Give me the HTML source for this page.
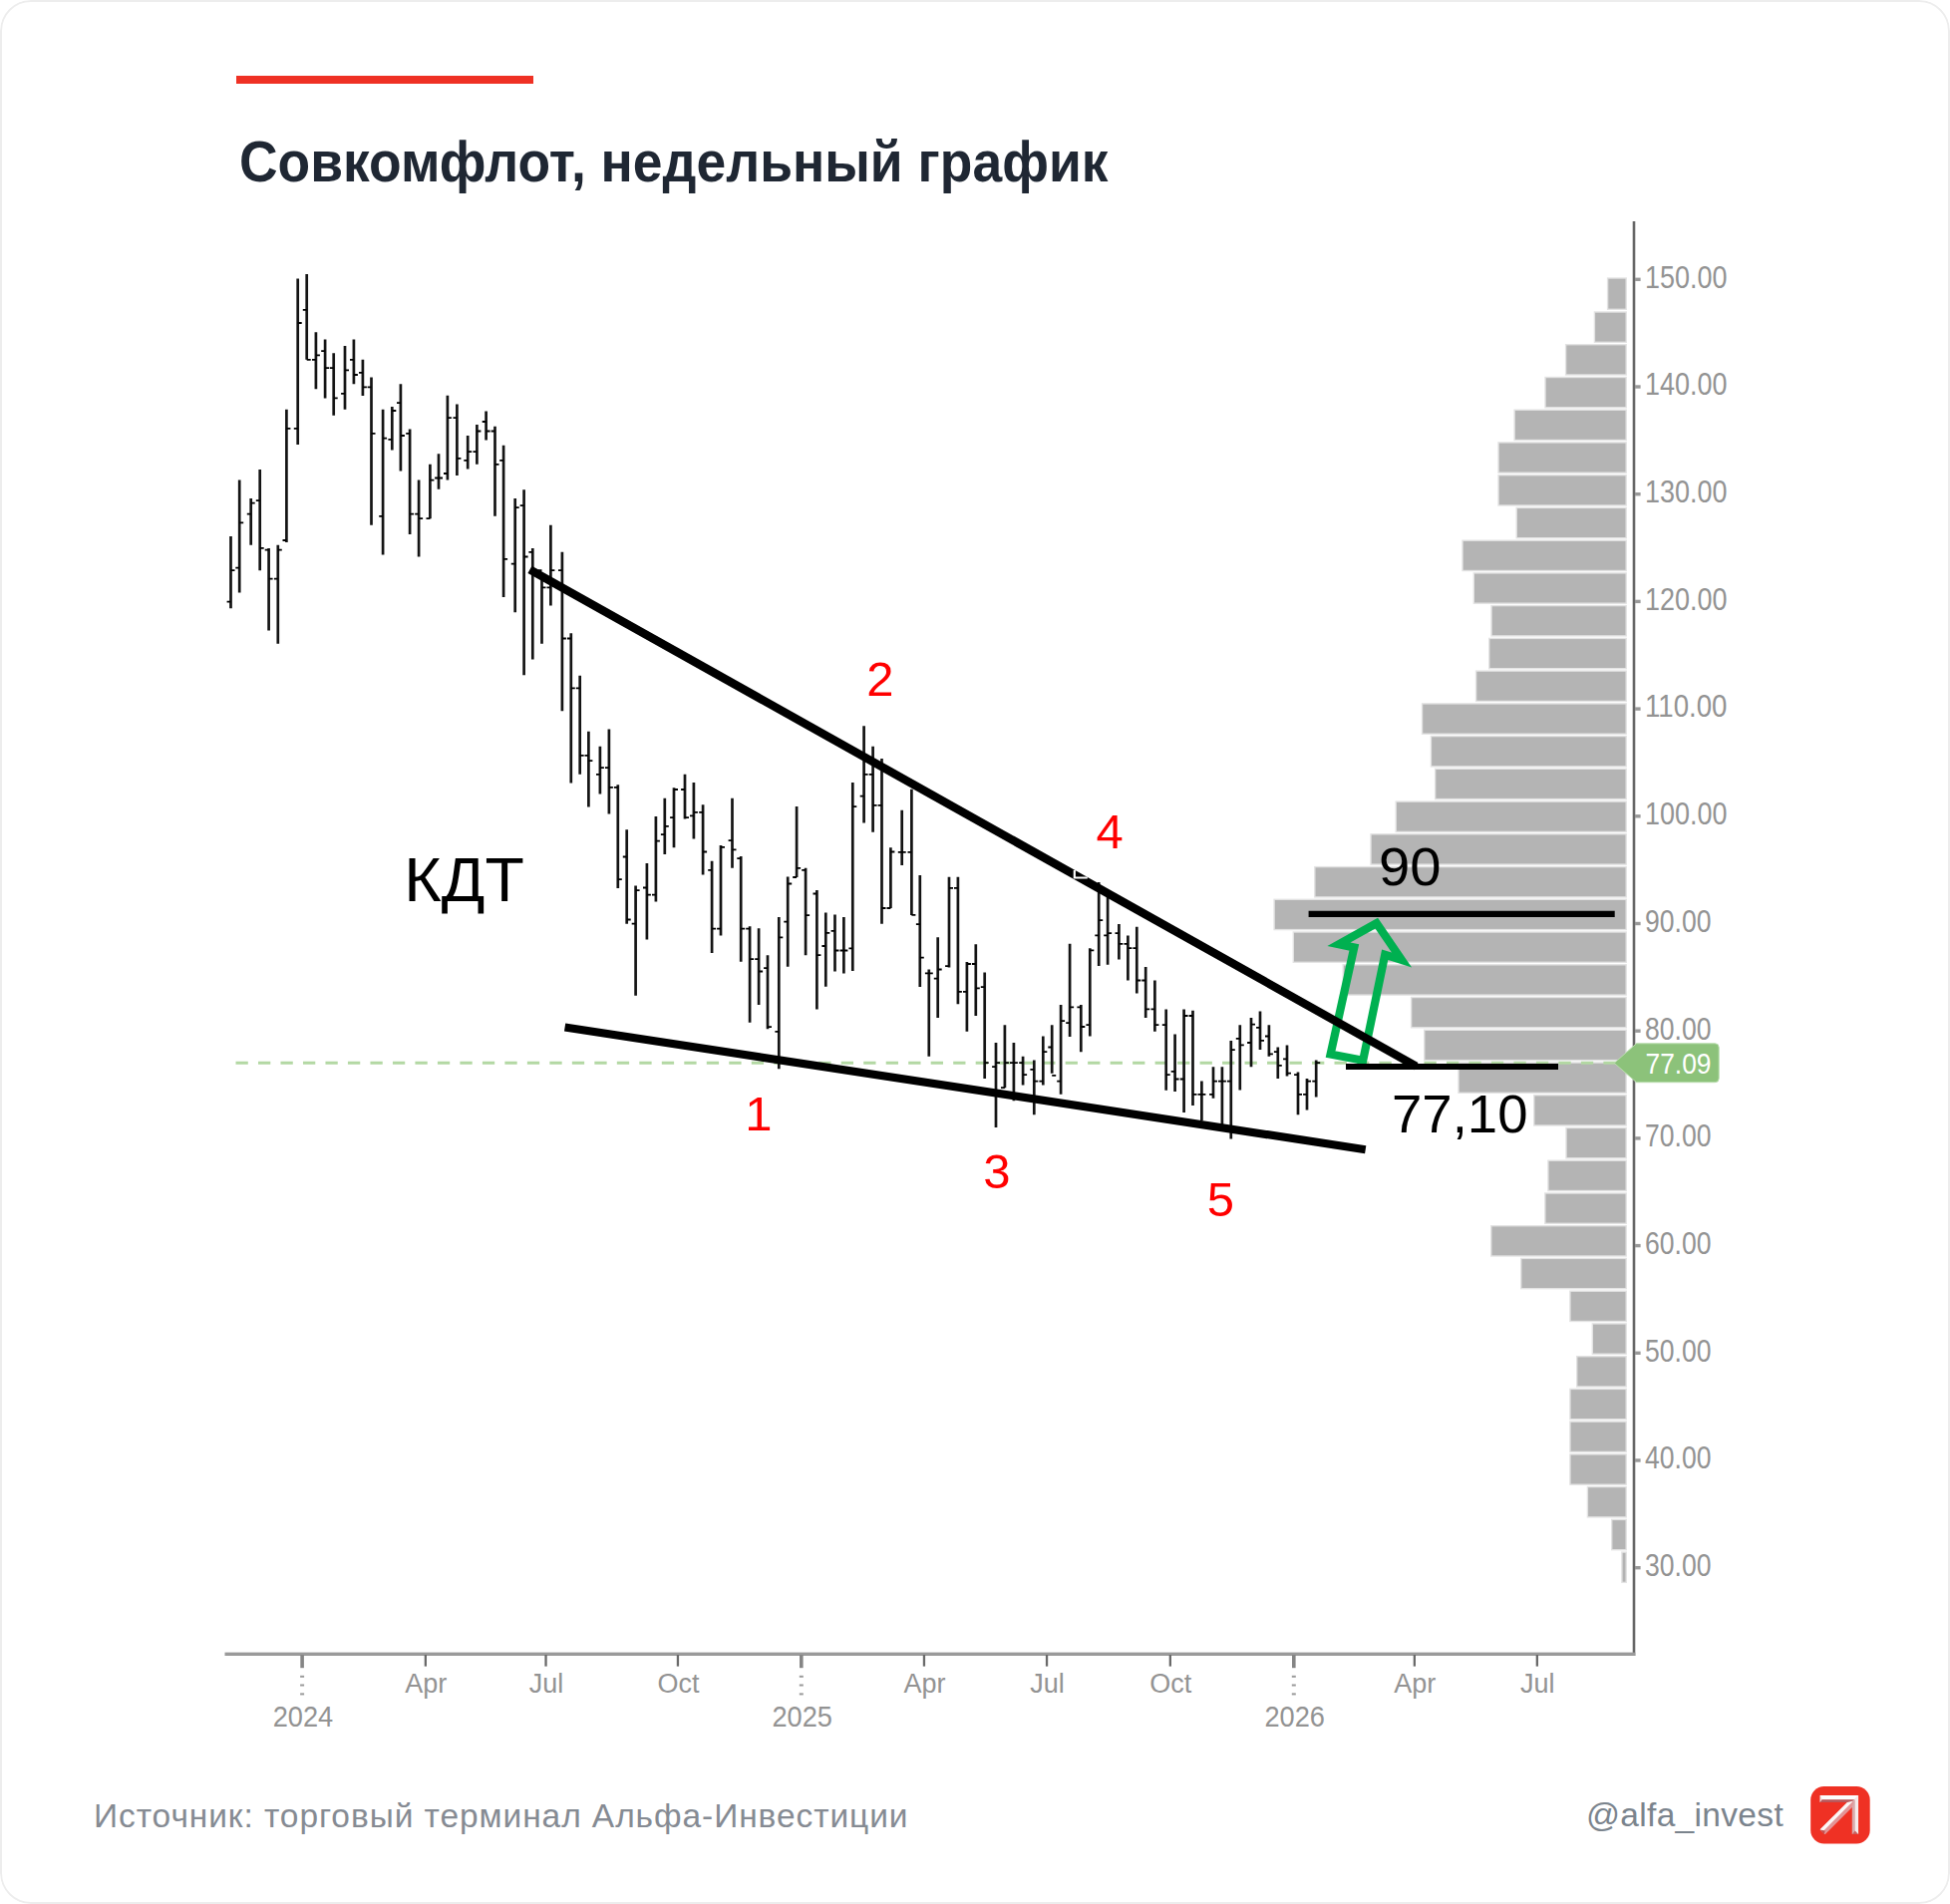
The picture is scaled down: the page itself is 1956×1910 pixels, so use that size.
<!DOCTYPE html>
<html lang="ru"><head><meta charset="utf-8"><title>Совкомфлот, недельный график</title>
<style>
html,body{margin:0;padding:0;background:#fff;}
body{width:1956px;height:1910px;overflow:hidden;position:relative;font-family:"Liberation Sans", sans-serif;}
.card{position:absolute;left:0;top:0;width:1956px;height:1910px;border-radius:31px;background:#fff;overflow:hidden;}
.card::after{content:"";position:absolute;left:0;top:0;width:1956px;height:1910px;box-sizing:border-box;border:2px solid #ededed;border-radius:31px;pointer-events:none;}
.accent{position:absolute;left:237px;top:76px;width:298px;height:8px;background:#ef3124;}
h1{position:absolute;left:240px;top:135.3px;margin:0;font-size:56.5px;line-height:56.5px;font-weight:700;color:#1f2733;white-space:nowrap;transform-origin:0 0;transform:scaleX(.9455);}
figure{position:absolute;left:0;top:0;margin:0;width:1956px;height:1910px;}
figure svg{position:absolute;left:0;top:0;display:block;}
svg text{font-family:"Liberation Sans", sans-serif;}
.ax{fill:#939393;font-size:27px;}
.red{fill:#ff0000;font-size:49px;}
.blk{fill:#000;font-size:53px;}
footer p{position:absolute;margin:0;font-size:33.5px;line-height:33.5px;white-space:nowrap;}
.source{left:94px;top:1805px;color:#868b93;letter-spacing:.93px;}
.handle{left:1591px;top:1803.9px;color:#7b848d;letter-spacing:.32px;}
.logo{position:absolute;left:1816px;top:1792px;width:60px;height:58px;}
</style></head><body>
<main class="card">
<header><div class="accent"></div><h1>Совкомфлот, недельный график</h1></header>
<figure>
<svg width="1956" height="1910" viewBox="0 0 1956 1910" role="img" aria-label="Совкомфлот, недельный график">

<g fill="#b4b4b4" stroke="#e3e3e3" stroke-width="1.4">
<rect x="1612.6" y="279.0" width="18.6" height="31.3"/>
<rect x="1599.4" y="313.0" width="31.8" height="30.3"/>
<rect x="1570.6" y="345.7" width="60.6" height="30.3"/>
<rect x="1550.0" y="378.5" width="81.2" height="30.3"/>
<rect x="1519.1" y="411.2" width="112.1" height="30.3"/>
<rect x="1503.0" y="443.9" width="128.2" height="30.3"/>
<rect x="1503.0" y="476.7" width="128.2" height="30.3"/>
<rect x="1521.2" y="509.4" width="110.0" height="30.3"/>
<rect x="1467.0" y="542.2" width="164.2" height="30.3"/>
<rect x="1478.3" y="574.9" width="152.9" height="30.3"/>
<rect x="1496.0" y="607.6" width="135.2" height="30.3"/>
<rect x="1493.7" y="640.4" width="137.5" height="30.3"/>
<rect x="1480.6" y="673.1" width="150.6" height="30.3"/>
<rect x="1426.5" y="705.9" width="204.7" height="30.3"/>
<rect x="1435.4" y="738.6" width="195.8" height="30.3"/>
<rect x="1439.6" y="771.3" width="191.6" height="30.3"/>
<rect x="1400.2" y="804.1" width="231.0" height="30.3"/>
<rect x="1375.0" y="836.8" width="256.2" height="30.3"/>
<rect x="1318.8" y="869.6" width="312.4" height="30.3"/>
<rect x="1278.1" y="902.3" width="353.1" height="30.3"/>
<rect x="1297.3" y="935.0" width="333.9" height="30.3"/>
<rect x="1347.2" y="967.8" width="284.0" height="30.3"/>
<rect x="1415.6" y="1000.5" width="215.6" height="30.3"/>
<rect x="1428.7" y="1033.3" width="202.5" height="30.3"/>
<rect x="1463.0" y="1066.0" width="168.2" height="30.3"/>
<rect x="1538.7" y="1098.7" width="92.5" height="30.3"/>
<rect x="1571.0" y="1131.5" width="60.2" height="30.3"/>
<rect x="1552.9" y="1164.2" width="78.3" height="30.3"/>
<rect x="1549.8" y="1197.0" width="81.4" height="30.3"/>
<rect x="1495.7" y="1229.7" width="135.5" height="30.3"/>
<rect x="1525.7" y="1262.4" width="105.5" height="30.3"/>
<rect x="1574.9" y="1295.2" width="56.3" height="30.3"/>
<rect x="1597.3" y="1327.9" width="33.9" height="30.3"/>
<rect x="1581.7" y="1360.7" width="49.5" height="30.3"/>
<rect x="1574.9" y="1393.4" width="56.3" height="30.3"/>
<rect x="1574.9" y="1426.1" width="56.3" height="30.3"/>
<rect x="1574.9" y="1458.9" width="56.3" height="30.3"/>
<rect x="1592.4" y="1491.6" width="38.8" height="30.3"/>
<rect x="1616.7" y="1524.4" width="14.5" height="30.3"/>
<rect x="1626.9" y="1557.1" width="4.3" height="30.3"/>
</g>
<line x1="236.5" y1="1066.3" x2="1622" y2="1066.3" stroke="#b3d8a3" stroke-width="3" stroke-dasharray="12.3 10.19"/>
<rect x="1637.7" y="222" width="2.6" height="1439" fill="#666"/>
<rect x="225.5" y="1657.6" width="1414.8" height="3.4" fill="#9a9a9a"/>
<rect x="1640" y="1571.0" width="5.6" height="3.4" fill="#999"/>
<text class="ax" style="font-size:30.5px" x="1650" y="1581.0" textLength="66.5" lengthAdjust="spacingAndGlyphs">30.00</text>
<rect x="1640" y="1463.3" width="5.6" height="3.4" fill="#999"/>
<text class="ax" style="font-size:30.5px" x="1650" y="1473.3" textLength="66.5" lengthAdjust="spacingAndGlyphs">40.00</text>
<rect x="1640" y="1355.6" width="5.6" height="3.4" fill="#999"/>
<text class="ax" style="font-size:30.5px" x="1650" y="1365.6" textLength="66.5" lengthAdjust="spacingAndGlyphs">50.00</text>
<rect x="1640" y="1247.9" width="5.6" height="3.4" fill="#999"/>
<text class="ax" style="font-size:30.5px" x="1650" y="1257.9" textLength="66.5" lengthAdjust="spacingAndGlyphs">60.00</text>
<rect x="1640" y="1140.2" width="5.6" height="3.4" fill="#999"/>
<text class="ax" style="font-size:30.5px" x="1650" y="1150.2" textLength="66.5" lengthAdjust="spacingAndGlyphs">70.00</text>
<rect x="1640" y="1032.5" width="5.6" height="3.4" fill="#999"/>
<text class="ax" style="font-size:30.5px" x="1650" y="1042.5" textLength="66.5" lengthAdjust="spacingAndGlyphs">80.00</text>
<rect x="1640" y="924.8" width="5.6" height="3.4" fill="#999"/>
<text class="ax" style="font-size:30.5px" x="1650" y="934.8" textLength="66.5" lengthAdjust="spacingAndGlyphs">90.00</text>
<rect x="1640" y="817.1" width="5.6" height="3.4" fill="#999"/>
<text class="ax" style="font-size:30.5px" x="1650" y="827.1" textLength="82.5" lengthAdjust="spacingAndGlyphs">100.00</text>
<rect x="1640" y="709.4" width="5.6" height="3.4" fill="#999"/>
<text class="ax" style="font-size:30.5px" x="1650" y="719.4" textLength="82.5" lengthAdjust="spacingAndGlyphs">110.00</text>
<rect x="1640" y="601.7" width="5.6" height="3.4" fill="#999"/>
<text class="ax" style="font-size:30.5px" x="1650" y="611.7" textLength="82.5" lengthAdjust="spacingAndGlyphs">120.00</text>
<rect x="1640" y="494.0" width="5.6" height="3.4" fill="#999"/>
<text class="ax" style="font-size:30.5px" x="1650" y="504.0" textLength="82.5" lengthAdjust="spacingAndGlyphs">130.00</text>
<rect x="1640" y="386.3" width="5.6" height="3.4" fill="#999"/>
<text class="ax" style="font-size:30.5px" x="1650" y="396.3" textLength="82.5" lengthAdjust="spacingAndGlyphs">140.00</text>
<rect x="1640" y="278.6" width="5.6" height="3.4" fill="#999"/>
<text class="ax" style="font-size:30.5px" x="1650" y="288.6" textLength="82.5" lengthAdjust="spacingAndGlyphs">150.00</text>
<rect x="301.3" y="1660" width="3.6" height="13.2" fill="#858585"/>
<rect x="301.1" y="1680.8" width="4" height="2" fill="#999"/>
<rect x="301.1" y="1689.5" width="4" height="2" fill="#999"/>
<rect x="301.1" y="1698.4" width="4" height="2" fill="#999"/>
<text class="ax" style="font-size:30px" x="304.0" y="1732.4" text-anchor="middle" textLength="60.5" lengthAdjust="spacingAndGlyphs">2024</text>
<rect x="425.7" y="1660" width="2.3" height="11.6" fill="#6a6a6a"/>
<text class="ax" x="427.3" y="1697.5" text-anchor="middle">Apr</text>
<rect x="546.4" y="1660" width="2.3" height="11.6" fill="#6a6a6a"/>
<text class="ax" x="548.0" y="1697.5" text-anchor="middle">Jul</text>
<rect x="678.8" y="1660" width="2.3" height="11.6" fill="#6a6a6a"/>
<text class="ax" x="680.4" y="1697.5" text-anchor="middle">Oct</text>
<rect x="802.0" y="1660" width="3.6" height="13.2" fill="#858585"/>
<rect x="801.8" y="1680.8" width="4" height="2" fill="#999"/>
<rect x="801.8" y="1689.5" width="4" height="2" fill="#999"/>
<rect x="801.8" y="1698.4" width="4" height="2" fill="#999"/>
<text class="ax" style="font-size:30px" x="804.7" y="1732.4" text-anchor="middle" textLength="60.5" lengthAdjust="spacingAndGlyphs">2025</text>
<rect x="925.8" y="1660" width="2.3" height="11.6" fill="#6a6a6a"/>
<text class="ax" x="927.4" y="1697.5" text-anchor="middle">Apr</text>
<rect x="1048.9" y="1660" width="2.3" height="11.6" fill="#6a6a6a"/>
<text class="ax" x="1050.5" y="1697.5" text-anchor="middle">Jul</text>
<rect x="1172.7" y="1660" width="2.3" height="11.6" fill="#6a6a6a"/>
<text class="ax" x="1174.3" y="1697.5" text-anchor="middle">Oct</text>
<rect x="1296.0" y="1660" width="3.6" height="13.2" fill="#858585"/>
<rect x="1295.8" y="1680.8" width="4" height="2" fill="#999"/>
<rect x="1295.8" y="1689.5" width="4" height="2" fill="#999"/>
<rect x="1295.8" y="1698.4" width="4" height="2" fill="#999"/>
<text class="ax" style="font-size:30px" x="1298.7" y="1732.4" text-anchor="middle" textLength="60.5" lengthAdjust="spacingAndGlyphs">2026</text>
<rect x="1417.7" y="1660" width="2.3" height="11.6" fill="#6a6a6a"/>
<text class="ax" x="1419.3" y="1697.5" text-anchor="middle">Apr</text>
<rect x="1540.7" y="1660" width="2.3" height="11.6" fill="#6a6a6a"/>
<text class="ax" x="1542.3" y="1697.5" text-anchor="middle">Jul</text>
<g stroke="#141414" stroke-width="2.7" fill="none">
<path d="M231.5 538.1V610.3M240.2 481.6V594.5M251.7 500.0V546.7M260.7 471.1V572.2M269.6 549.9V632.6M278.8 546.7V645.7M287.4 410.7V544.1M298.7 279.4V446.1M307.7 274.9V360.8M316.9 333.2V390.2M326.1 340.6V399.4M334.7 354.2V416.7M346.0 347.1V410.7M354.9 340.6V385.2M363.9 360.8V397.0M372.5 378.4V526.8M384.1 410.7V556.4M393.3 408.1V451.4M401.9 385.2V472.4M411.1 430.4V536.0M420.1 481.6V558.5M431.4 465.8V520.2M440.0 455.3V490.8M448.9 396.8V481.6M458.4 405.4V476.9M469.2 437.0V470.6M478.4 425.9V465.8M487.6 412.5V441.4M496.5 427.8V517.8M505.1 446.7V599.0M516.7 500.0V614.2M525.6 491.3V677.2M534.3 549.9V661.5M543.5 578.8V645.7M552.4 526.8V607.6M563.9 553.8V713.2M572.8 635.2V785.4M581.7 677.8V776.8M590.4 733.7V809.6M601.9 748.7V796.5M610.9 731.6V816.4M619.8 787.3V891.0M628.7 832.2V926.7M637.6 888.4V998.7M648.9 866.1V942.5M657.9 819.1V904.4M666.8 800.7V857.1M676.0 790.2V850.3M687.0 776.8V821.4M695.9 784.9V841.4M705.1 807.2V877.4M714.1 863.7V956.1M723.0 847.9V938.5M734.5 800.7V870.8M743.2 859.0V964.8M752.1 929.3V1025.7M761.1 931.2V1007.9M770.0 958.2V1032.3M781.3 919.9V1072.2M790.2 879.5V969.8M799.1 809.1V880.0M808.1 870.8V958.2M819.4 893.1V1012.6M828.3 915.4V989.7M837.5 917.5V974.5M846.4 919.9V976.4M855.3 784.9V974.0M866.6 728.2V825.6M875.6 748.7V834.8M884.5 761.0V926.7M893.4 850.3V911.0M904.7 812.8V868.0M914.4 791.8V917.9M922.8 878.0V990.1M931.8 972.5V1059.7M940.7 940.2V1021.1M952.0 879.8V970.4M960.9 879.8V1007.2M969.9 965.1V1034.7M978.8 947.3V1019.0M987.7 975.6V1082.0M999.0 1046.0V1131.1M1007.9 1028.2V1091.2M1016.9 1046.0V1104.3M1026.1 1059.7V1088.6M1037.3 1063.6V1118.2M1046.3 1039.5V1088.6M1055.2 1028.2V1076.7M1064.1 1007.9V1097.8M1073.1 946.8V1040.0M1084.3 1007.9V1055.2M1093.3 951.2V1039.5M1102.2 885.0V969.1M1111.1 895.5V967.8M1122.4 927.1V962.5M1131.4 938.4V983.5M1140.3 929.7V996.6M1149.2 969.9V1021.1M1158.4 983.5V1034.7M1169.7 1012.4V1093.8M1178.6 1037.4V1095.1M1187.6 1012.4V1116.1M1196.5 1013.7V1109.0M1205.4 1084.4V1124.0M1217.0 1070.2V1101.7M1225.9 1070.2V1129.3M1234.8 1043.9V1142.4M1243.8 1028.2V1093.6M1255.0 1021.1V1070.2M1264.0 1014.5V1053.1M1272.9 1028.2V1059.7M1281.8 1050.5V1082.0M1291.0 1048.4V1079.4M1302.0 1075.4V1118.2M1311.0 1082.0V1113.5M1320.2 1063.6V1100.4"/>
</g>
<g stroke="#000" stroke-width="1.8" fill="none">
<path d="M227.6 603.7h3.9M231.5 572.2h4M236.3 569.6h3.9M240.2 524.4h4M247.8 515.7h3.9M251.7 504.7h4M256.8 502.1h3.9M260.7 549.9h4M265.7 551.7h3.9M269.6 580.6h4M274.9 580.6h3.9M278.8 551.7h4M283.5 542.0h3.9M287.4 429.9h4M294.8 429.9h3.9M298.7 324.0h4M303.8 310.9h3.9M307.7 360.8h4M313.0 360.8h3.9M316.9 356.3h4M322.2 352.1h3.9M326.1 369.2h4M330.8 369.2h3.9M334.7 399.4h4M342.1 394.9h3.9M346.0 371.3h4M351.0 360.8h3.9M354.9 376.0h4M360.0 373.9h3.9M363.9 388.4h4M368.6 388.4h3.9M372.5 434.9h4M380.2 517.8h3.9M384.1 439.6h4M389.4 440.9h3.9M393.3 412.0h4M398.0 404.1h3.9M401.9 437.0h4M407.2 434.9h3.9M411.1 515.7h4M416.2 515.7h3.9M420.1 520.2h4M427.5 520.2h3.9M431.4 481.6h4M436.1 479.5h3.9M440.0 479.5h4M445.0 475.0h3.9M448.9 419.1h4M454.5 419.1h3.9M458.4 459.8h4M465.3 461.9h3.9M469.2 453.2h4M474.5 453.2h3.9M478.4 432.5h4M483.7 423.0h3.9M487.6 432.5h4M492.6 432.5h3.9M496.5 465.8h4M501.2 461.9h3.9M505.1 560.9h4M512.8 565.6h3.9M516.7 509.2h4M521.7 507.1h3.9M525.6 558.5h4M530.4 553.8h3.9M534.3 572.2h4M539.6 572.2h3.9M543.5 589.3h4M548.5 589.3h3.9M552.4 572.2h4M560.0 572.2h3.9M563.9 640.5h4M568.9 640.5h3.9M572.8 690.4h4M577.8 690.4h3.9M581.7 757.9h4M586.5 757.9h3.9M590.4 763.1h4M598.0 776.8h3.9M601.9 770.2h4M607.0 770.2h3.9M610.9 789.9h4M615.9 789.9h3.9M619.8 882.1h4M624.8 859.5h3.9M628.7 922.5h4M633.7 926.7h3.9M637.6 893.1h4M645.0 890.5h3.9M648.9 897.6h4M654.0 897.6h3.9M657.9 843.7h4M662.9 837.2h3.9M666.8 828.8h4M672.1 820.1h3.9M676.0 792.0h4M683.1 792.0h3.9M687.0 820.1h4M692.0 818.3h3.9M695.9 814.9h4M701.2 814.9h3.9M705.1 854.5h4M710.2 872.9h3.9M714.1 931.7h4M719.1 931.7h3.9M723.0 849.8h4M730.6 843.2h3.9M734.5 852.4h4M739.3 861.1h3.9M743.2 931.7h4M748.2 931.7h3.9M752.1 962.2h4M757.2 962.2h3.9M761.1 974.5h4M766.1 971.1h3.9M770.0 1030.2h4M777.4 1034.9h3.9M781.3 940.4h4M786.3 924.6h3.9M790.2 886.5h4M795.2 880.0h3.9M799.1 870.8h4M804.2 872.9h3.9M808.1 918.1h4M815.5 896.5h3.9M819.4 958.2h4M824.4 949.0h3.9M828.3 935.9h4M833.6 933.8h3.9M837.5 953.5h4M842.5 953.5h3.9M846.4 953.5h4M851.4 951.4h3.9M855.3 809.1h4M862.7 798.6h3.9M866.6 776.8h4M871.7 776.8h3.9M875.6 807.8h4M880.6 807.8h3.9M884.5 911.0h4M889.5 911.0h3.9M893.4 854.5h4M900.8 854.8h3.9M904.7 854.8h4M910.5 854.8h3.9M914.4 917.9h4M918.9 927.1h3.9M922.8 960.7h4M927.9 976.4h3.9M931.8 976.4h4M936.8 981.7h3.9M940.7 972.5h4M948.1 969.1h3.9M952.0 890.8h4M957.0 890.8h3.9M960.9 994.8h4M966.0 994.8h3.9M969.9 967.0h4M974.9 967.0h3.9M978.8 991.4h4M983.8 990.1h3.9M987.7 1066.2h4M995.1 1070.2h3.9M999.0 1066.2h4M1004.0 1091.2h3.9M1007.9 1066.2h4M1013.0 1066.2h3.9M1016.9 1066.2h4M1022.2 1066.2h3.9M1026.1 1078.1h4M1033.4 1072.8h3.9M1037.3 1084.6h4M1042.4 1084.6h3.9M1046.3 1055.2h4M1051.3 1050.5h3.9M1055.2 1078.8h4M1060.2 1084.6h3.9M1064.1 1024.2h4M1069.2 1026.1h3.9M1073.1 1010.3h4M1080.4 1010.3h3.9M1084.3 1030.0h4M1089.4 1028.2h3.9M1093.3 953.3h4M1098.3 938.4h3.9M1102.2 923.1h4M1107.2 938.4h3.9M1111.1 936.2h4M1118.5 936.2h3.9M1122.4 946.8h4M1127.5 946.8h3.9M1131.4 951.2h4M1136.4 951.2h3.9M1140.3 983.5h4M1145.3 983.5h3.9M1149.2 1012.4h4M1154.5 1012.4h3.9M1158.4 1028.2h4M1165.8 1028.2h3.9M1169.7 1078.1h4M1174.7 1074.9h3.9M1178.6 1082.5h4M1183.7 1082.5h3.9M1187.6 1019.0h4M1192.6 1019.0h3.9M1196.5 1097.8h4M1201.5 1097.8h3.9M1205.4 1097.8h4M1213.1 1097.8h3.9M1217.0 1084.6h4M1222.0 1084.6h3.9M1225.9 1084.6h4M1230.9 1084.6h3.9M1234.8 1053.1h4M1239.8 1041.8h3.9M1243.8 1048.4h4M1251.1 1046.0h3.9M1255.0 1027.6h4M1260.1 1030.8h3.9M1264.0 1043.9h4M1269.0 1039.5h3.9M1272.9 1057.3h4M1277.9 1055.2h3.9M1281.8 1068.9h4M1287.1 1062.3h3.9M1291.0 1076.7h4M1298.1 1078.1h3.9M1302.0 1097.8h4M1307.1 1097.8h3.9M1311.0 1084.6h4M1316.3 1084.6h3.9M1320.2 1066.2h4"/>
</g>
<polygon points="1380.8,926.2 1343,947.2 1358.3,950.4 1334.6,1057.5 1367.2,1063.8 1389.2,957.7 1406,963" fill="none" stroke="#00b050" stroke-width="8.2" stroke-linejoin="miter"/>
<g stroke="#000" stroke-linecap="butt">
<line x1="531.5" y1="571.3" x2="1420.5" y2="1069.6" stroke-width="8.3"/>
<line x1="566.6" y1="1030.5" x2="1369.7" y2="1153.2" stroke-width="8.2"/>
<line x1="1312.6" y1="916.9" x2="1619.7" y2="916.9" stroke-width="6.4"/>
<line x1="1350" y1="1070" x2="1563" y2="1070" stroke-width="6.2"/>
</g>
<path d="M1077.8 873v7.5h13" stroke="#fff" stroke-width="2.2" fill="none"/>
<path d="M1619.2 1066.4L1641.5 1046.8H1720.2a4 4 0 0 1 4 4V1081.7a4 4 0 0 1 -4 4H1641.5Z" fill="#8cc27a" stroke="#b9dcae" stroke-width="1"/>
<text x="1650.5" y="1076.6" font-size="30" fill="#fff" textLength="66" lengthAdjust="spacingAndGlyphs">77.09</text>
<text class="red" x="761" y="1134" text-anchor="middle">1</text>
<text class="red" x="883" y="698.2" text-anchor="middle">2</text>
<text class="red" x="1000" y="1192" text-anchor="middle">3</text>
<text class="red" x="1113.2" y="850.8" text-anchor="middle">4</text>
<text class="red" x="1224.5" y="1219.5" text-anchor="middle">5</text>
<text class="blk" x="1383" y="888.3" textLength="62.5" lengthAdjust="spacingAndGlyphs">90</text>
<text class="blk" x="1396" y="1135.5" style="font-size:53.5px" textLength="136.5" lengthAdjust="spacingAndGlyphs">77,10</text>
<text x="405.3" y="904" font-size="62.5" fill="#000" textLength="120.5" lengthAdjust="spacingAndGlyphs">КДТ</text>
</svg>
</figure>
<footer>
<p class="source">Источник: торговый терминал Альфа-Инвестиции</p>
<p class="handle">@alfa_invest</p>
<svg class="logo" width="60" height="58" viewBox="1816 1792 60 58" role="img" aria-label="Альфа-Инвестиции">
<rect x="1816.2" y="1792" width="59.5" height="57.4" rx="13.5" ry="13.5" fill="#ef3124"/>
<g>
<path d="M1825.7 1801.1H1864.05V1840.05H1857.9V1808.05H1825.7Z" fill="#eed6d6"/>
<path d="M1825.7 1835.3L1853 1808.05L1859.3 1806.5L1857.9 1812.8L1830.6 1840.05Z" fill="#efc2c2"/>
<path d="M1825.7 1801.1H1864.05L1860 1805.2H1827.6Z" fill="#fdfdfd"/>
<path d="M1825.7 1801.1L1827.6 1805.2L1825.7 1808.05Z" fill="#f1dede"/>
<path d="M1827.6 1805.2H1860L1857.9 1808.05H1825.7Z" fill="#b9575a"/>
<path d="M1864.05 1801.1V1840.05L1860.7 1836.4V1805.2Z" fill="#f6ecec"/>
<path d="M1860.7 1805.2V1836.4L1857.9 1840.05V1808.05Z" fill="#d9aaab"/>
<path d="M1857.9 1840.05L1860.7 1836.4L1864.05 1840.05Z" fill="#c9605e"/>
<path d="M1825.7 1835.3L1853 1808.05L1859.3 1806.5L1828.2 1837.65Z" fill="#fbf7f7"/>
<path d="M1828.2 1837.65L1859.3 1806.5L1857.9 1812.8L1830.6 1840.05Z" fill="#e39496"/>
<path d="M1825.7 1835.5L1830.6 1836.6L1829.9 1840.05Z" fill="#c4504e"/>
</g>
</svg>
</footer>
</main>
</body></html>
